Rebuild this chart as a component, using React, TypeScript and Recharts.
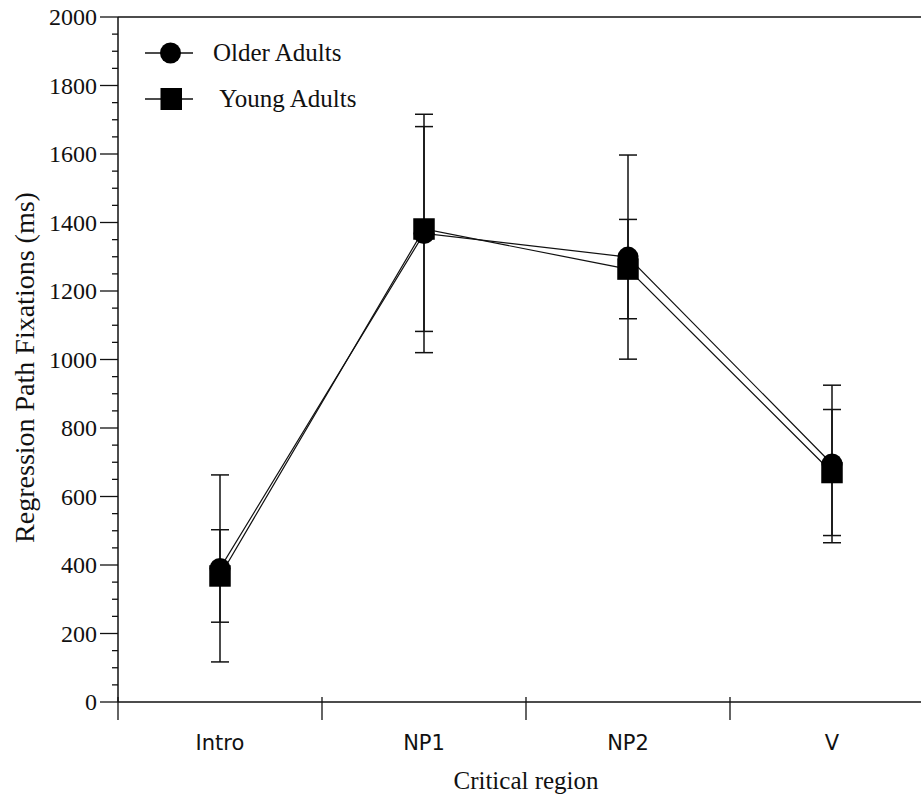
import React from 'react';
import { LineChart, Line, XAxis, YAxis, ErrorBar, ReferenceLine, Legend, Label } from 'recharts';

// values (ms)
const regions = ['Intro', 'NP1', 'NP2', 'V'];
const olderMeans = [390, 1368, 1299, 695];
const olderErrors = [273, 348, 298, 230];
const youngMeans = [368, 1381, 1264, 670];
const youngErrors = [135, 299, 145, 184];
const seriesNames = ['Older Adults', ' Young Adults'];

const yTicks = [
  0, 50, 100, 150, 200, 250, 300, 350, 400, 450, 500, 550, 600, 650, 700, 750, 800, 850, 900, 950,
  1000, 1050, 1100, 1150, 1200, 1250, 1300, 1350, 1400, 1450, 1500, 1550, 1600, 1650, 1700, 1750,
  1800, 1850, 1900, 1950, 2000,
];
const yLabelTicks = [0, 200, 400, 600, 800, 1000, 1200, 1400, 1600, 1800, 2000];

const data = regions.map((r, i) => ({
  region: r,
  older: olderMeans[i],
  olderErr: olderErrors[i],
  young: youngMeans[i],
  youngErr: youngErrors[i],
}));

const SERIF = '"Liberation Serif", "Times New Roman", serif';
const SANS = '"DejaVu Sans", Verdana, sans-serif';

const YTick = (props: any) => {
  const { x, y, payload } = props;
  const major = yLabelTicks.includes(payload.value);
  return (
    <g>
      <line x1={x - (major ? 18 : 6)} x2={x} y1={y} y2={y} stroke="#111" strokeWidth={1.3} />
      {major && (
        <text x={x - 21} y={y + 8} textAnchor="end" fontFamily={SERIF} fontSize={24} fill="#111">
          {payload.value}
        </text>
      )}
    </g>
  );
};

const XTick = (props: any) => {
  const { x, y, payload } = props;
  const half = payload.offset || 102;
  return (
    <g>
      <line x1={x - half} x2={x - half} y1={y - 5} y2={y + 18} stroke="#111" strokeWidth={1.3} />
      <text x={x} y={y + 48} textAnchor="middle" fontFamily={SANS} fontSize={21} fill="#111">
        {payload.value}
      </text>
    </g>
  );
};

const YLabel = (props: any) => {
  const { viewBox } = props;
  const cx = viewBox.x + 24;
  const cy = viewBox.y + viewBox.height / 2 + 8;
  return (
    <text
      x={cx}
      y={cy}
      transform={`rotate(-90, ${cx}, ${cy})`}
      textAnchor="middle"
      dominantBaseline="central"
      fontFamily={SERIF}
      fontSize={28}
      fill="#111"
    >
      Regression Path Fixations (ms)
    </text>
  );
};

const LegendBox = () => (
  <svg width={240} height={80}>
    <line x1={5} x2={53} y1={15} y2={15} stroke="#111" strokeWidth={1.3} />
    <circle cx={30.5} cy={15} r={10.5} fill="#000" />
    <text x={73} y={23} fontFamily={SERIF} fontSize={25} fill="#111">{seriesNames[0]}</text>
    <line x1={5} x2={53} y1={61} y2={61} stroke="#111" strokeWidth={1.3} />
    <rect x={20.5} y={50} width={21.5} height={22} fill="#000" />
    <text x={74} y={69} fontFamily={SERIF} fontSize={25} fill="#111" style={{ whiteSpace: 'pre' }}>{seriesNames[1]}</text>
  </svg>
);

const circleDot = (p: any) => <circle key={`o-${p.index}`} cx={p.cx} cy={p.cy} r={10.5} fill="#000" />;
const squareDot = (p: any) => (
  <rect key={`y-${p.index}`} x={p.cx - 10.75} y={p.cy - 10.75} width={21.5} height={21.5} fill="#000" />
);

export default function App() {
  return (
    <div style={{ position: 'absolute', left: 0, top: 0, width: 921, height: 798, overflow: 'hidden', background: '#fff' }}>
      <LineChart width={940} height={798} data={data} margin={{ top: 17, right: 6, bottom: 0, left: 0 }}>
        <XAxis
          dataKey="region"
          scale="band"
          height={96}
          tickLine={false}
          tickSize={0}
          tickMargin={0}
          interval={0}
          stroke="#111"
          strokeWidth={1.5}
          tick={<XTick />}
        >
          <Label value="Critical region" position="insideBottom" offset={9} fontFamily={SERIF} fontSize={25} fill="#111" />
        </XAxis>
        <YAxis
          width={118}
          domain={[0, 2000]}
          ticks={yTicks}
          interval={0}
          tickLine={false}
          tickSize={0}
          tickMargin={0}
          stroke="#111"
          strokeWidth={1.5}
          tick={<YTick />}
          label={<YLabel />}
        />
        <ReferenceLine y={2000} stroke="#111" strokeWidth={1.5} />
        <Legend
          layout="horizontal"
          verticalAlign="middle"
          align="center"
          wrapperStyle={{ top: 38, left: 140, width: 240, height: 80 }}
          content={<LegendBox />}
        />
        <Line
          dataKey="older"
          stroke="#111"
          strokeWidth={1.2}
          dot={circleDot}
          activeDot={false}
          isAnimationActive={false}
        >
          <ErrorBar dataKey="olderErr" direction="y" width={9} stroke="#111" strokeWidth={1.5} />
        </Line>
        <Line
          dataKey="young"
          stroke="#111"
          strokeWidth={1.2}
          dot={squareDot}
          activeDot={false}
          isAnimationActive={false}
        >
          <ErrorBar dataKey="youngErr" direction="y" width={9} stroke="#111" strokeWidth={1.5} />
        </Line>
      </LineChart>
    </div>
  );
}
